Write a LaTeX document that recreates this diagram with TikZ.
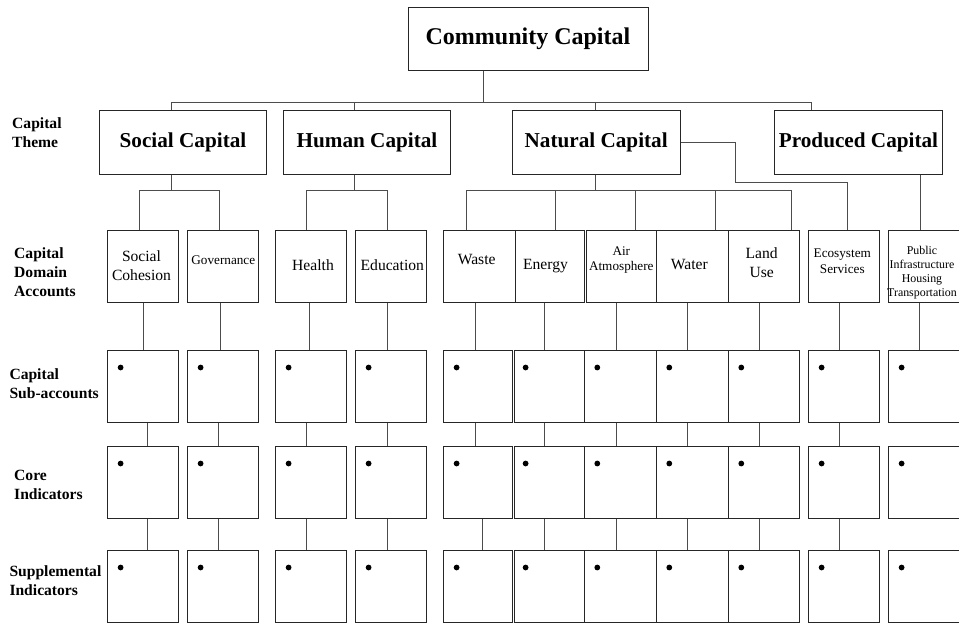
\documentclass[tikz,border=0pt]{standalone}
\usepackage{fontspec}
\setmainfont{Liberation Serif}
\begin{document}
\begin{tikzpicture}[x=1pt,y=-1pt,
  box/.style={draw=black!85, line width=1pt, fill=white, inner sep=0pt},
  link/.style={draw=black!70, line width=1pt},
  title/.style={font=\fontsize{24}{28}\selectfont\bfseries},
  theme/.style={font=\fontsize{21.2}{25}\selectfont\bfseries},
  rowlbl/.style={font=\fontsize{15.6}{19}\selectfont\bfseries, align=left, anchor=west, inner sep=0pt},
  dom/.style={font=\fontsize{15.6}{18.7}\selectfont, align=center, inner sep=0pt},
  domsm/.style={font=\fontsize{13.2}{15.6}\selectfont, align=center, inner sep=0pt},
  domxs/.style={font=\fontsize{11.9}{14.2}\selectfont, align=center, inner sep=0pt},
  dot/.style={fill=black}]
\useasboundingbox[fill=white] (0,0) rectangle (959,622);

% ---------- top level ----------
\node[box, title, minimum width=240, minimum height=63] (cc) at (528,38.5) {Community Capital};

% ---------- capital themes ----------
\node[box, theme, minimum width=167.4, minimum height=63.3] (social)   at (183,142.35)   {Social Capital};
\node[box, theme, minimum width=167.4, minimum height=63.3] (human)    at (367,142.35)   {Human Capital};
\node[box, theme, minimum width=167.7, minimum height=63.3] (natural)  at (596.15,142.35) {Natural Capital};
\node[box, theme, minimum width=167.6, minimum height=63.3] (produced) at (858.5,142.35) {Produced Capital};

% ---------- row labels ----------
\node[rowlbl] (lTheme) at (12,132.5)   {Capital\\Theme};
\node[rowlbl] (lDomain) at (14,272.2)  {Capital\\Domain\\Accounts};
\node[rowlbl] (lSub) at (9.3,383.5)    {Capital\\Sub-accounts};
\node[rowlbl] (lCore) at (14,484.6)    {Core\\Indicators};
\node[rowlbl] (lSupp) at (9.3,580.4)   {Supplemental\\Indicators};

% ---------- capital domain accounts (boxes) ----------
\foreach \n/\c/\w in {SC/143/71.4, GV/223/71.4, HE/311/71.4, ED/391/71.4,
                      WA/479.15/71.7, EN/549.75/69.5, AI/621/70, WT/692/72,
                      LU/763.65/71.3, ES/843.8/71, PU/923.8/71}
  \node[box, minimum width=\w, minimum height=71.6] (d\n) at (\c,266.5) {};

% domain account texts
\node[dom]   (tSC) at (141.5,266)  {Social\\Cohesion};
\node[domsm] (tGV) at (223.3,260.5) {Governance};
\node[dom]   (tHE) at (313,264.7)  {Health};
\node[dom]   (tED) at (392.3,264.7) {Education};
\node[dom]   (tWA) at (476.7,260)  {Waste};
\node[dom]   (tEN) at (545.5,266.5) {Energy};
\node[domsm] (tAI) at (621.3,260)  {Air\\Atmosphere};
\node[dom]   (tWT) at (689.3,265)  {Water};
\node[dom]   (tLU) at (761.7,262.5) {Land\\Use};
\node[domsm] (tES) at (842.3,261)  {Ecosystem\\Services};
\node[domxs] (tPU) at (922,272.6)  {Public\\Infrastructure\\Housing\\Transportation};

% ---------- sub-accounts, core and supplemental indicator boxes ----------
\foreach \r/\y in {s/386.5, c/482.5, p/586.5}{
  \foreach \n/\c/\w in {SC/143/71.4, GV/223/71.4, HE/311/71.4, ED/391/71.4,
                        WA/478/69.4, EN/549.25/69.5, AI/620/72, WT/692/72,
                        LU/763.65/71.3, ES/843.8/71, PU/923.8/71}
    \node[box, minimum width=\w, minimum height=71.6] (\r\n) at (\c,\y) {};
}

% bullets
\foreach \r in {s,c,p}{
  \foreach \n in {SC,GV,HE,ED,WA,AI,WT,LU,ES,PU}
    \fill[dot] ([shift={(13.8,17.3)}]\r\n.north west) circle (2.9);
  \fill[dot] ([shift={(11.6,17.3)}]\r EN.north west) circle (2.9);
}

% ---------- connector x positions ----------
\coordinate (xCC) at (483.3,102);
\coordinate (xSo) at (171,102);
\coordinate (xHu) at (354.3,102);
\coordinate (xNa) at (595,102);
\coordinate (xPr) at (811,102);

% community -> themes
\draw[link] (cc.south -| xCC) -- (xCC);
\draw[link] (xSo) -- (xPr);
\foreach \x/\t in {xSo/social, xHu/human, xNa/natural, xPr/produced}
  \draw[link] (\x) -- (\t.north -| \x);

% themes -> domain accounts
\coordinate (bSo) at (171,190);
\coordinate (bHu) at (354.3,190);
\coordinate (bNa) at (595,190);
\draw[link] (social.south -| bSo) -- (bSo);
\draw[link] (human.south -| bHu) -- (bHu);
\draw[link] (natural.south -| bNa) -- (bNa);
\draw[link] (139,190) -- (219,190);
\draw[link] (306.7,190) -- (387,190);
\draw[link] (466.7,190) -- (791.7,190);
\foreach \x/\n in {139/SC, 219/GV, 306.7/HE, 387/ED, 466.7/WA, 555/EN, 635/AI, 715/WT, 791.7/LU}
  \draw[link] (\x,190) -- (d\n.north -| \x,0);

% natural -> ecosystem services
\coordinate (eA) at (735.7,182.3);
\coordinate (eB) at (847.7,182.3);
\draw[link] (natural.east) -| (eA) -- (eB) -- (dES.north -| eB);

% produced -> public infrastructure
\coordinate (xPU) at (920,0);
\draw[link] (produced.south -| xPU) -- (dPU.north -| xPU);

% domain accounts -> sub-accounts
\foreach \x/\n in {143.3/SC, 220/GV, 309.7/HE, 387/ED, 475/WA, 544/EN, 616/AI, 687.7/WT, 759.7/LU, 839.7/ES, 919.7/PU}
  \draw[link] (d\n.south -| \x,0) -- (s\n.north -| \x,0);

% sub-accounts -> core indicators
\foreach \x/\n in {147/SC, 218.7/GV, 306.7/HE, 387/ED, 475/WA, 544/EN, 616/AI, 687.7/WT, 759.7/LU, 839.7/ES}
  \draw[link] (s\n.south -| \x,0) -- (c\n.north -| \x,0);

% core -> supplemental indicators
\foreach \x/\n in {147/SC, 218.7/GV, 306.7/HE, 387/ED, 482.7/WA, 544/EN, 616/AI, 687.7/WT, 759.7/LU, 839.7/ES}
  \draw[link] (c\n.south -| \x,0) -- (p\n.north -| \x,0);

\end{tikzpicture}
\end{document}
